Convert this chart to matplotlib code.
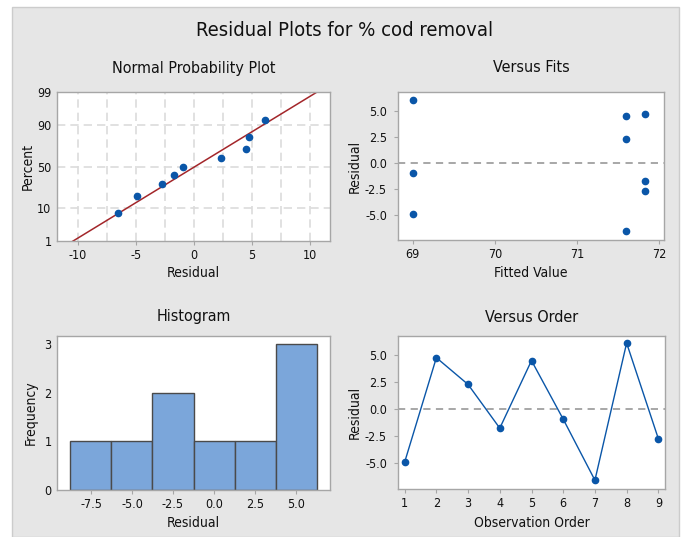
import numpy as np
import matplotlib
matplotlib.use("Agg")
import matplotlib.pyplot as plt
from matplotlib.patches import Rectangle
from statistics import NormalDist

plt.rcParams['font.family'] = ['DejaVu Sans']
plt.rcParams['font.stretch'] = 'condensed'
plt.rcParams['axes.unicode_minus'] = False

# data
order = [1, 2, 3, 4, 5, 6, 7, 8, 9]
residuals = [-4.88, 4.75, 2.28, -1.75, 4.48, -0.92, -6.55, 6.10, -2.72]
fitted = [69.0, 71.83, 71.60, 71.83, 71.60, 69.0, 71.60, 69.0, 71.83]
hist_edges = [-8.75, -6.25, -3.75, -1.25, 1.25, 3.75, 6.25]
prob_ticks = [1, 10, 50, 90, 99]

blue = '#0a56a8'
txt = '#111111'
spine_col = '#a6a6a6'
lab_fs = 10
title_fs = 11.5

nd = NormalDist()
_ppf = np.vectorize(lambda v: nd.inv_cdf(v / 100.0), otypes=[float])
_cdf = np.vectorize(lambda v: nd.cdf(v) * 100.0, otypes=[float])


def fwd(p):
    p = np.clip(np.asarray(p, dtype=float), 1e-6, 100 - 1e-6)
    return _ppf(p)


def inv(z):
    return _cdf(np.asarray(z, dtype=float))


W, H = 687.0, 537.0


def style(ax, left_col):
    for s in ax.spines.values():
        s.set_color(spine_col)
        s.set_linewidth(1.0)
    ax.tick_params(colors=spine_col, labelcolor=txt, labelsize=9, length=3, width=0.8, pad=3)
    if left_col:
        ax.tick_params(axis='y', length=0, pad=4)
    else:
        ax.tick_params(axis='y', length=3, pad=5)
    ax.set_facecolor('white')


def place_labels(ax, box, xlab_top, ylab_right):
    l, t, r, b = box
    ax.xaxis.set_label_coords(0.5, -(xlab_top - b) / (b - t))
    ax.yaxis.set_label_coords((ylab_right - l) / (r - l), 0.5)


fig = plt.figure(figsize=(6.87, 5.37), dpi=100)
fig.patches.append(Rectangle((12 / W, 0), 667 / W, 1 - 7 / H, transform=fig.transFigure,
                             facecolor='#e6e6e6', edgecolor='#cccccc', linewidth=1, zorder=-10))


def add_ax(box):
    l, t, r, b = box
    return fig.add_axes([l / W, 1 - b / H, (r - l) / W, (b - t) / H])


fig.text(345 / W, 1 - 31 / H, 'Residual Plots for % cod removal', ha='center', va='center',
         fontsize=14.5, color=txt)

# Normal probability plot
box1 = (57, 92, 330, 241)
ax1 = add_ax(box1)
style(ax1, True)
ax1.set_yscale('function', functions=(fwd, inv))
res_sorted = np.sort(residuals)
n = len(res_sorted)
pct = (np.arange(1, n + 1) - 0.3) / (n + 0.4) * 100
mu = np.mean(residuals)
sd = np.std(residuals, ddof=1)
p_line = np.array([0.5, 99.5])
x_line = mu + sd * np.array([nd.inv_cdf(p / 100) for p in p_line])
for xg in np.arange(-10, 10.1, 2.5):
    ax1.axvline(xg, color='#dcdcdc', ls=(0, (5, 3)), lw=1.2, zorder=0)
for yg in [10, 50, 90]:
    ax1.axhline(yg, color='#dcdcdc', ls=(0, (5, 3)), lw=1.2, zorder=0)
ax1.plot(x_line, p_line, color='#a3262a', lw=1.1, zorder=2)
ax1.plot(res_sorted, pct, 'o', color=blue, ms=4.5, zorder=3)
ax1.set_xlim(-11.8, 11.7)
ax1.set_ylim(1, 99)
ax1.set_yticks(prob_ticks)
ax1.set_yticklabels([str(t) for t in prob_ticks])
ax1.yaxis.set_minor_locator(matplotlib.ticker.NullLocator())
ax1.set_xticks([-10, -5, 0, 5, 10])
ax1.set_xlabel('Residual', fontsize=lab_fs, color=txt)
ax1.set_ylabel('Percent', fontsize=lab_fs, color=txt)
place_labels(ax1, box1, 266, 35)
fig.text(194 / W, 1 - 68 / H, 'Normal Probability Plot', ha='center', va='center',
         fontsize=title_fs, color=txt)

# Versus fits
box2 = (398, 92, 664, 240)
ax2 = add_ax(box2)
style(ax2, False)
ax2.axhline(0, color='#a0a0a0', ls=(0, (4, 3)), lw=1.3, zorder=1)
ax2.plot(fitted, residuals, 'o', color=blue, ms=4.5, zorder=3)
ax2.set_xlim(68.82, 72.06)
ax2.set_ylim(-7.42, 6.84)
ax2.set_xticks([69, 70, 71, 72])
ax2.set_yticks([-5, -2.5, 0, 2.5, 5])
ax2.yaxis.set_major_formatter(matplotlib.ticker.FormatStrFormatter('%.1f'))
ax2.set_xlabel('Fitted Value', fontsize=lab_fs, color=txt)
ax2.set_ylabel('Residual', fontsize=lab_fs, color=txt)
place_labels(ax2, box2, 266, 362)
fig.text(531 / W, 1 - 68 / H, 'Versus Fits', ha='center', va='center',
         fontsize=title_fs, color=txt)

# Histogram
box3 = (57, 336, 330, 490)
ax3 = add_ax(box3)
style(ax3, True)
ax3.hist(residuals, bins=hist_edges, color='#7ba6da', edgecolor='#4a4a4a', linewidth=1.0)
ax3.set_xlim(-9.57, 7.07)
ax3.set_ylim(0, 3.17)
ax3.set_yticks([0, 1, 2, 3])
ax3.set_xticks([-7.5, -5, -2.5, 0, 2.5, 5])
ax3.xaxis.set_major_formatter(matplotlib.ticker.FormatStrFormatter('%.1f'))
ax3.set_xlabel('Residual', fontsize=lab_fs, color=txt)
ax3.set_ylabel('Frequency', fontsize=lab_fs, color=txt)
place_labels(ax3, box3, 516, 38)
fig.text(194 / W, 1 - 317 / H, 'Histogram', ha='center', va='center',
         fontsize=title_fs, color=txt)

# Versus order
box4 = (398, 336, 665, 489)
ax4 = add_ax(box4)
style(ax4, False)
ax4.axhline(0, color='#a0a0a0', ls=(0, (4, 3)), lw=1.3, zorder=1)
ax4.plot(order, residuals, '-o', color=blue, lw=1.0, ms=4.5, zorder=3)
ax4.set_xlim(0.79, 9.21)
ax4.set_ylim(-7.36, 6.75)
ax4.set_xticks(order)
ax4.set_yticks([-5, -2.5, 0, 2.5, 5])
ax4.yaxis.set_major_formatter(matplotlib.ticker.FormatStrFormatter('%.1f'))
ax4.set_xlabel('Observation Order', fontsize=lab_fs, color=txt)
ax4.set_ylabel('Residual', fontsize=lab_fs, color=txt)
place_labels(ax4, box4, 516, 362)
fig.text(532 / W, 1 - 317 / H, 'Versus Order', ha='center', va='center',
         fontsize=title_fs, color=txt)

fig.savefig('out.png', dpi=100, facecolor='white')
